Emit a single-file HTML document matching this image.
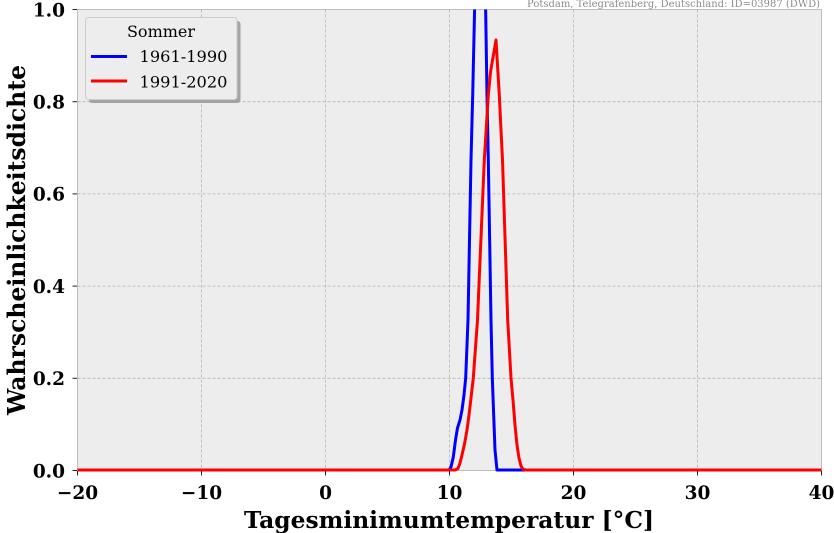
<!DOCTYPE html>
<html>
<head>
<meta charset="utf-8">
<style>
html,body{margin:0;padding:0;background:#ffffff;}
svg{display:block;}
</style>
</head>
<body>
<svg width="834" height="533" viewBox="0 0 834 533" xmlns="http://www.w3.org/2000/svg">
  <defs>
    <clipPath id="pc"><rect x="76" y="9.5" width="747" height="464"/></clipPath>
  </defs>
  <rect x="0" y="0" width="834" height="533" fill="#ffffff"/>
  <!-- plot background -->
  <rect x="77.5" y="9.5" width="744" height="461" fill="#ededed"/>
  <!-- grid -->
  <g stroke="#b3b3b3" stroke-width="0.8" stroke-dasharray="3,2" fill="none">
    <line x1="201.5" y1="9.5" x2="201.5" y2="470.5"/>
    <line x1="325.5" y1="9.5" x2="325.5" y2="470.5"/>
    <line x1="449.5" y1="9.5" x2="449.5" y2="470.5"/>
    <line x1="573.5" y1="9.5" x2="573.5" y2="470.5"/>
    <line x1="697.5" y1="9.5" x2="697.5" y2="470.5"/>
    <line x1="77.5" y1="378.3" x2="821.5" y2="378.3"/>
    <line x1="77.5" y1="286.1" x2="821.5" y2="286.1"/>
    <line x1="77.5" y1="193.9" x2="821.5" y2="193.9"/>
    <line x1="77.5" y1="101.7" x2="821.5" y2="101.7"/>
  </g>
  <!-- frame -->
  <rect x="77.5" y="9.5" width="744" height="461" fill="none" stroke="#bdbdbd" stroke-width="1"/>
  <!-- series -->
  <g clip-path="url(#pc)" fill="none" stroke-width="3" stroke-linejoin="round" stroke-linecap="butt">
    <polyline stroke="#0000ff" points="77.5,470 449,470 451,467 453.3,457 455.5,440 457.5,428 460,420 462,410 464,395 465.7,378 467,345 468,320 471,160 472.7,95 474.8,0 485.5,0 487,95 488.3,160 491,320 492.3,378 493.5,410 495,450 497,470 821.5,470"/>
    <polyline stroke="#ff0000" points="77.5,470 455,470 458,468.5 460,463 462,455 464.5,444 467,430 469,415 471,398 473.3,378 477.5,320 484.3,160 488.3,95 490.5,72 496,40 499.3,95 500.5,120 502.5,160 507.7,320 511,378 513,400 515,425 517,445 519,458 521,466 523,469.3 526,470 821.5,470"/>
  </g>
  <!-- ticks -->
  <g stroke="#222" stroke-width="1">
    <line x1="77.5" y1="471" x2="77.5" y2="475.5"/>
    <line x1="201.5" y1="471" x2="201.5" y2="475.5"/>
    <line x1="325.5" y1="471" x2="325.5" y2="475.5"/>
    <line x1="449.5" y1="471" x2="449.5" y2="475.5"/>
    <line x1="573.5" y1="471" x2="573.5" y2="475.5"/>
    <line x1="697.5" y1="471" x2="697.5" y2="475.5"/>
    <line x1="821.5" y1="471" x2="821.5" y2="475.5"/>
    <line x1="72.5" y1="470.5" x2="77" y2="470.5"/>
    <line x1="72.5" y1="378.3" x2="77" y2="378.3"/>
    <line x1="72.5" y1="286.1" x2="77" y2="286.1"/>
    <line x1="72.5" y1="193.9" x2="77" y2="193.9"/>
    <line x1="72.5" y1="101.7" x2="77" y2="101.7"/>
    <line x1="72.5" y1="9.5" x2="77" y2="9.5"/>
  </g>
  <!-- tick labels -->
  <g font-family="'DejaVu Serif','Liberation Serif',serif" font-weight="bold" font-size="18.5" fill="#000">
    <g text-anchor="middle">
      <text x="77.5" y="499">−20</text>
      <text x="201.5" y="499">−10</text>
      <text x="325.5" y="499">0</text>
      <text x="449.5" y="499">10</text>
      <text x="573.5" y="499">20</text>
      <text x="697.5" y="499">30</text>
      <text x="821.5" y="499">40</text>
    </g>
    <g text-anchor="end">
      <text x="65" y="477.3">0.0</text>
      <text x="65" y="385.1">0.2</text>
      <text x="65" y="292.9">0.4</text>
      <text x="65" y="200.7">0.6</text>
      <text x="65" y="108.5">0.8</text>
      <text x="65" y="16.3">1.0</text>
    </g>
  </g>
  <!-- axis labels -->
  <text x="449" y="528" text-anchor="middle" font-family="'DejaVu Serif','Liberation Serif',serif" font-weight="bold" font-size="23" textLength="410" lengthAdjust="spacingAndGlyphs">Tagesminimumtemperatur [°C]</text>
  <text transform="translate(25,240) rotate(-90)" x="0" y="0" text-anchor="middle" font-family="'DejaVu Serif','Liberation Serif',serif" font-weight="bold" font-size="24" textLength="350" lengthAdjust="spacingAndGlyphs">Wahrscheinlichkeitsdichte</text>
  <!-- attribution -->
  <text x="820" y="7" text-anchor="end" font-family="'DejaVu Serif','Liberation Serif',serif" font-size="10" fill="#8c8c8c" textLength="293" lengthAdjust="spacingAndGlyphs">Potsdam, Telegrafenberg, Deutschland: ID=03987 (DWD)</text>
  <!-- legend -->
  <rect x="89" y="21" width="151.5" height="82" rx="3" fill="#a3a3a3"/>
  <rect x="85.5" y="17.5" width="151.5" height="82" rx="3" fill="#ededed" stroke="#cccccc" stroke-width="1"/>
  <g font-family="'DejaVu Serif','Liberation Serif',serif" font-size="16" fill="#000">
    <text x="161" y="37" text-anchor="middle">Sommer</text>
    <text x="139.5" y="62" textLength="88" lengthAdjust="spacingAndGlyphs">1961-1990</text>
    <text x="139.5" y="87.5" textLength="88" lengthAdjust="spacingAndGlyphs">1991-2020</text>
  </g>
  <line x1="91" y1="56.5" x2="127" y2="56.5" stroke="#0000ff" stroke-width="3"/>
  <line x1="91" y1="81" x2="127" y2="81" stroke="#ff0000" stroke-width="3"/>
</svg>
</body>
</html>
